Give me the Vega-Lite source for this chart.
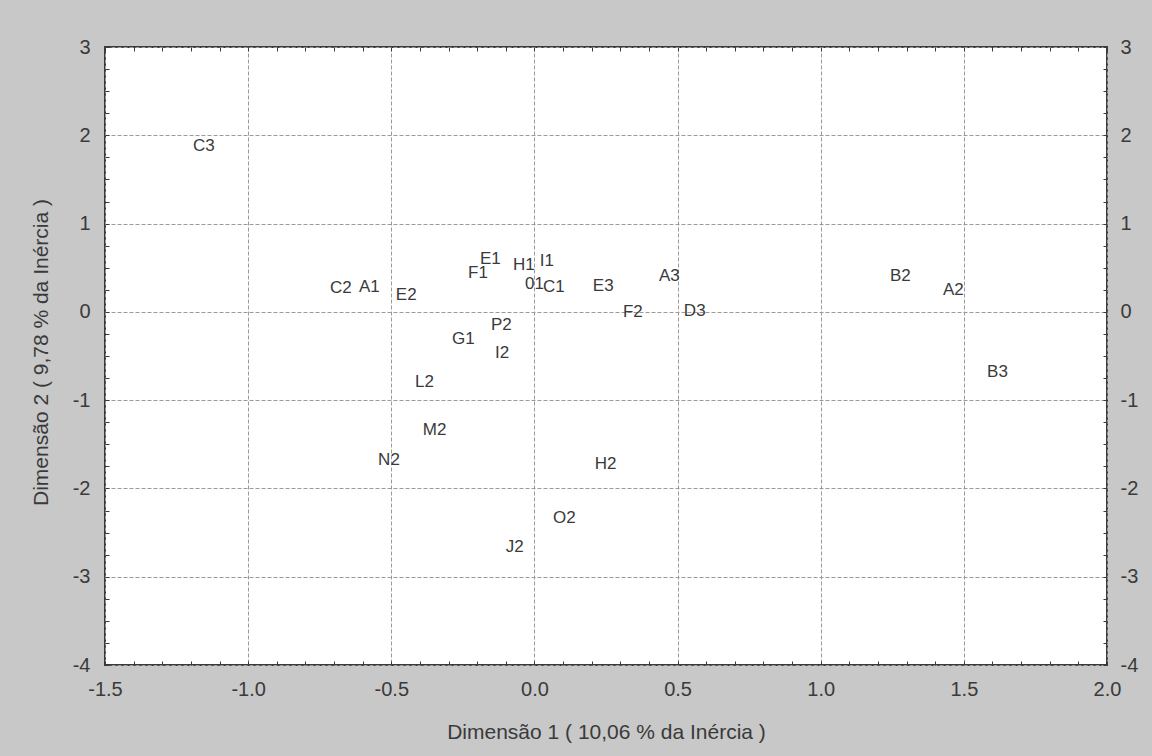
{
  "$schema": "https://vega.github.io/schema/vega-lite/v6.json",
  "width": 1002,
  "height": 618,
  "autosize": {"type": "none"},
  "padding": {"left": 105, "top": 47, "right": 45, "bottom": 91},
  "background": "#c8c8c8",
  "config": {
    "view": {"fill": "#ffffff", "stroke": "#3a3a3a", "strokeWidth": 2},
    "axis": {"domain": false, "labelFont": "Liberation Sans", "titleFont": "Liberation Sans", "labelColor": "#3a3a3a", "titleColor": "#3a3a3a", "labelFontSize": 20, "titleFontSize": 21, "titleFontWeight": "normal", "tickColor": "#3a3a3a"}
  },
  "data": {"values": [
    {"label": "C3", "x": -1.193, "y": 1.879},
    {"label": "C2", "x": -0.714, "y": 0.27},
    {"label": "A1", "x": -0.613, "y": 0.28},
    {"label": "E2", "x": -0.484, "y": 0.19},
    {"label": "F1", "x": -0.232, "y": 0.444},
    {"label": "E1", "x": -0.19, "y": 0.6},
    {"label": "H1", "x": -0.075, "y": 0.53},
    {"label": "I1", "x": 0.019, "y": 0.58},
    {"label": "01", "x": -0.033, "y": 0.32},
    {"label": "C1", "x": 0.03, "y": 0.285},
    {"label": "P2", "x": -0.152, "y": -0.149},
    {"label": "G1", "x": -0.288, "y": -0.307},
    {"label": "I2", "x": -0.138, "y": -0.466},
    {"label": "L2", "x": -0.417, "y": -0.79},
    {"label": "M2", "x": -0.39, "y": -1.338},
    {"label": "N2", "x": -0.546, "y": -1.678},
    {"label": "H2", "x": 0.211, "y": -1.723},
    {"label": "O2", "x": 0.065, "y": -2.335},
    {"label": "J2", "x": -0.1, "y": -2.66},
    {"label": "E3", "x": 0.204, "y": 0.293},
    {"label": "F2", "x": 0.309, "y": 0.002},
    {"label": "A3", "x": 0.435, "y": 0.406},
    {"label": "D3", "x": 0.522, "y": 0.013},
    {"label": "B2", "x": 1.242, "y": 0.406},
    {"label": "A2", "x": 1.427, "y": 0.248},
    {"label": "B3", "x": 1.581, "y": -0.677}
  ]},
  "resolve": {"scale": {"x": "shared", "y": "shared"}, "axis": {"x": "independent", "y": "independent"}},
  "layer": [
    {
      "mark": {"type": "text", "align": "left", "baseline": "middle", "font": "Liberation Sans", "fontSize": 17, "color": "#3a3a3a"},
      "encoding": {
        "x": {"field": "x", "type": "quantitative", "scale": {"domain": [-1.5, 2], "nice": false, "zero": false},
          "axis": {"orient": "bottom", "values": [-1.5, -1, -0.5, 0, 0.5, 1, 1.5, 2], "labelExpr": "datum.value < 0 ? '-' + format(-datum.value, '.1f') : format(datum.value, '.1f')", "ticks": false, "labelPadding": 14, "labelFlush": false, "labelOverlap": false, "grid": true, "gridColor": "#9a9a9a", "gridDash": [4, 2], "gridWidth": 1,
            "title": "Dimensão 1  ( 10,06 % da Inércia )", "titleX": 501, "titleY": 67, "titleAnchor": null, "titleAlign": "center", "titleBaseline": "middle"}},
        "y": {"field": "y", "type": "quantitative", "scale": {"domain": [-4, 3], "nice": false, "zero": false},
          "axis": {"orient": "left", "values": [-4, -3, -2, -1, 0, 1, 2, 3], "labelExpr": "datum.value < 0 ? '-' + format(-datum.value, 'd') : format(datum.value, 'd')", "ticks": false, "labelPadding": 15, "labelFlush": false, "labelOverlap": false, "grid": true, "gridColor": "#9a9a9a", "gridDash": [4, 2], "gridWidth": 1,
            "title": "Dimensão 2  ( 9,78 % da Inércia )", "titleX": -64, "titleY": 305, "titleAngle": -90, "titleAlign": "center", "titleBaseline": "middle"}},
        "text": {"field": "label", "type": "nominal"}
      }
    },
    {
      "mark": {"type": "point", "opacity": 0},
      "encoding": {
        "x": {"field": "x", "type": "quantitative", "scale": {"domain": [-1.5, 2], "nice": false, "zero": false},
          "axis": {"orient": "top", "values": [-1.5, -1.4, -1.3, -1.2, -1.1, -1.0, -0.9, -0.8, -0.7, -0.6, -0.5, -0.4, -0.3, -0.2, -0.1, 0, 0.1, 0.2, 0.3, 0.4, 0.5, 0.6, 0.7, 0.8, 0.9, 1.0, 1.1, 1.2, 1.3, 1.4, 1.5, 1.6, 1.7, 1.8, 1.9, 2.0], "labels": false, "grid": false, "ticks": true, "tickSize": -4, "title": null}},
        "y": {"field": "y", "type": "quantitative", "scale": {"domain": [-4, 3], "nice": false, "zero": false},
          "axis": {"orient": "right", "values": [-4, -3.75, -3.5, -3.25, -3, -2.75, -2.5, -2.25, -2, -1.75, -1.5, -1.25, -1, -0.75, -0.5, -0.25, 0, 0.25, 0.5, 0.75, 1, 1.25, 1.5, 1.75, 2, 2.25, 2.5, 2.75, 3], "labelExpr": "datum.value % 1 == 0 ? (datum.value < 0 ? '-' + format(-datum.value, 'd') : format(datum.value, 'd')) : ''", "labelFlush": false, "labelOverlap": false, "labelPadding": 17, "grid": false, "ticks": true, "tickSize": -4, "title": null}}
      }
    },
    {
      "mark": {"type": "point", "opacity": 0},
      "encoding": {
        "x": {"field": "x", "type": "quantitative", "scale": {"domain": [-1.5, 2], "nice": false, "zero": false},
          "axis": {"orient": "bottom", "values": [-1.5, -1.4, -1.3, -1.2, -1.1, -1.0, -0.9, -0.8, -0.7, -0.6, -0.5, -0.4, -0.3, -0.2, -0.1, 0, 0.1, 0.2, 0.3, 0.4, 0.5, 0.6, 0.7, 0.8, 0.9, 1.0, 1.1, 1.2, 1.3, 1.4, 1.5, 1.6, 1.7, 1.8, 1.9, 2.0], "labels": false, "grid": false, "ticks": true, "tickSize": -4, "title": null}},
        "y": {"field": "y", "type": "quantitative", "scale": {"domain": [-4, 3], "nice": false, "zero": false},
          "axis": {"orient": "left", "values": [-4, -3.75, -3.5, -3.25, -3, -2.75, -2.5, -2.25, -2, -1.75, -1.5, -1.25, -1, -0.75, -0.5, -0.25, 0, 0.25, 0.5, 0.75, 1, 1.25, 1.5, 1.75, 2, 2.25, 2.5, 2.75, 3], "labels": false, "grid": false, "ticks": true, "tickSize": -4, "title": null}}
      }
    }
  ]
}
